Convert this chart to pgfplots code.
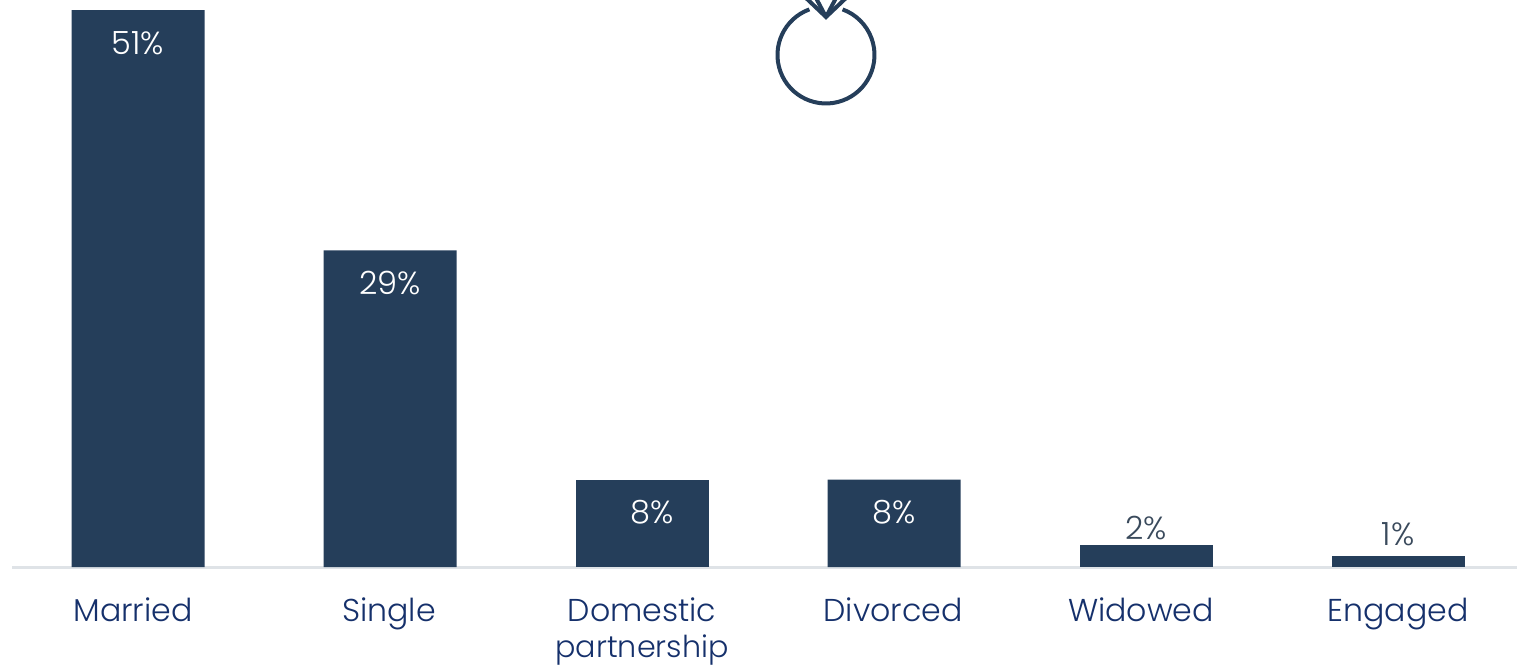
\documentclass[border=0pt]{standalone}
\usepackage{fontspec}
\setmainfont{Poppins Light}
\usepackage{pgfplots}
\pgfplotsset{compat=1.18}
\definecolor{barnavy}{HTML}{253E5A}
\definecolor{ticknavy}{HTML}{15306B}
\definecolor{rulegrey}{HTML}{DFE3E7}
\definecolor{lownote}{HTML}{3A4A5C}
\begin{document}
\begin{tikzpicture}[x=0.5pt,y=0.5pt]
\useasboundingbox (-12,-99) rectangle (1505,567);
\begin{axis}[
  at={(0,0)}, anchor=south west,
  scale only axis, width=752.5pt, height=283.5pt,
  xmin=-0.5, xmax=5.472, ymin=0, ymax=51.92,
  axis x line=bottom, axis y line=none,
  x axis line style={draw=rulegrey, line width=1.5pt, -},
  ybar, bar width=66.5pt, bar shift=0pt,
  xtick={-0.02,0.996,2,2.996,3.98,5},
  xticklabels={Married,Single,{Domestic\\[-1.5pt]{\fontsize{15.1}{17}\selectfont partnership}},Divorced,Widowed,Engaged},
  x tick label style={align=center, font=\fontsize{15.8}{19.5}\selectfont, text=ticknavy, anchor=north, inner sep=0pt, yshift=-15.2pt},
  major tick length=0pt,
  major tick style={draw=none},
  clip=false,
  point meta=explicit symbolic,
  nodes near coords,
  every node near coord/.append style={font=\fontsize{16}{18}\selectfont},
]
% bars tall enough to hold their value inside
\addplot[fill=barnavy, draw=none,
  nodes near coords style={text=white, anchor=north, yshift=-7pt}]
  coordinates {(0,51)[51\%] (1,29)[29\%] (3,8)[8\%]};
\addplot[fill=barnavy, draw=none,
  nodes near coords style={text=white, anchor=north, yshift=-7pt, xshift=5pt}]
  coordinates {(2,8)[8\%]};
% short bars carry the value above
\addplot[fill=barnavy, draw=none,
  nodes near coords style={text=lownote, anchor=south, yshift=-1pt}]
  coordinates {(4,2)[2\%]};
\addplot[fill=barnavy, draw=none,
  nodes near coords style={text=lownote, anchor=south, yshift=1.5pt}]
  coordinates {(5,1)[1\%]};
\end{axis}
% ring emblem
\begin{scope}[shift={(-12,567)}, yscale=-1]
  \clip (700,0) rectangle (950,130);
  \draw[barnavy, line width=2pt] (809.4,9.4) arc[start angle=-110, end angle=-430, radius=48.5];
  \draw[barnavy, line width=2pt, line join=miter] (806,-2) -- (826,17) -- (846,-2);
  \draw[barnavy, line width=2pt] (826,17) -- (816,-2) (826,17) -- (836,-2);
\end{scope}
\end{tikzpicture}
\end{document}
